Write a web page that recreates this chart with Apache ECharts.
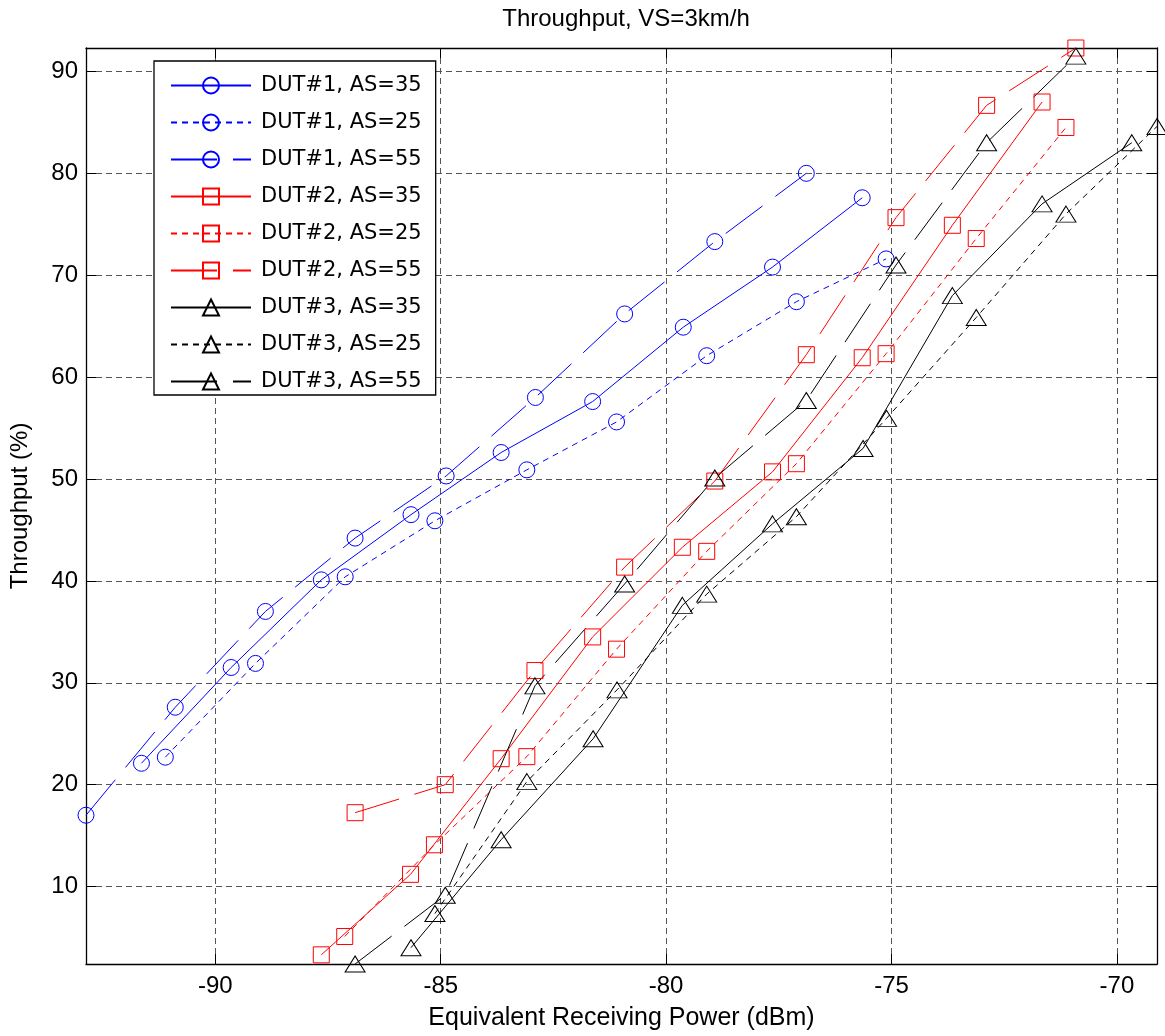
<!DOCTYPE html>
<html>
<head>
<meta charset="utf-8">
<title>Throughput, VS=3km/h</title>
<script src="https://cdn.jsdelivr.net/npm/echarts@6/dist/echarts.min.js"></script>
<style>
  html, body { margin: 0; padding: 0; background: #fff; }
  #chart { width: 1165px; height: 1036px; }
</style>
</head>
<body>
<div id="chart"></div>
<script>
// DUT#1 (blue, circles)
const dut1X35 = [-91.64, -89.65, -87.65, -85.66, -83.66, -81.63, -79.62, -77.64, -75.65]
const dut1Y35 = [22.1, 31.5, 40.1, 46.5, 52.6, 57.6, 64.9, 70.8, 77.6]
const dut1X25 = [-91.11, -89.11, -87.12, -85.13, -83.09, -81.10, -79.10, -77.11, -75.12]
const dut1Y25 = [22.7, 31.9, 40.4, 45.9, 50.9, 55.6, 62.1, 67.4, 71.6]
const dut1X55 = [-92.87, -90.89, -88.89, -86.90, -84.88, -82.90, -80.92, -78.92, -76.89]
const dut1Y55 = [17.0, 27.6, 37.0, 44.2, 50.3, 58.0, 66.2, 73.3, 80.0]
// DUT#2 (red, squares)
const dut2X35 = [-87.65, -85.67, -83.66, -81.63, -79.64, -77.64, -75.65, -73.65, -71.66]
const dut2Y35 = [3.3, 11.2, 22.55, 34.5, 43.3, 50.7, 61.9, 74.9, 87.0]
const dut2X25 = [-87.13, -85.14, -83.09, -81.10, -79.10, -77.11, -75.12, -73.12, -71.13]
const dut2Y25 = [5.1, 14.1, 22.75, 33.3, 42.9, 51.5, 62.3, 73.6, 84.5]
const dut2X55 = [-86.90, -84.90, -82.91, -80.92, -78.92, -76.89, -74.90, -72.89, -70.91]
const dut2Y55 = [17.25, 20.0, 31.2, 41.35, 49.8, 62.2, 75.65, 86.67, 92.3]
// DUT#3 (black, triangles)
const dut3X35 = [-85.66, -83.66, -81.62, -79.64, -77.64, -75.63, -73.65, -71.66, -69.67]
const dut3Y35 = [4.0, 14.6, 24.5, 37.6, 45.6, 53.0, 68.0, 77.0, 83.0]
const dut3X25 = [-85.13, -83.09, -81.09, -79.10, -77.11, -75.11, -73.12, -71.13, -69.11]
const dut3Y25 = [7.35, 20.3, 29.3, 38.7, 46.3, 55.95, 65.85, 76.0, 84.6]
const dut3X55 = [-86.90, -84.90, -82.91, -80.92, -78.92, -76.89, -74.90, -72.89, -70.91]
const dut3Y55 = [2.4, 9.15, 29.7, 39.7, 50.1, 57.7, 71.0, 83.0, 91.5]

const xTicks = [-90, -85, -80, -75, -70]
const yTicks = [10, 20, 30, 40, 50, 60, 70, 80, 90]

const font = 'Liberation Sans, Arial, Helvetica, sans-serif'
const dashShort = [6, 5]
// long dash, gap lands just right of the marker in the legend swatch
const dashLong = [46, 16]

function pairs (xs, ys) {
  return xs.map((x, i) => [x, ys[i]])
}

function makeSeries (name, xs, ys, color, symbol, size, dash) {
  return {
    name: name,
    type: 'line',
    data: pairs(xs, ys),
    symbol: symbol,
    symbolSize: size,
    clip: false,
    lineStyle: { color: color, width: 1, type: dash },
    itemStyle: { color: 'transparent', borderColor: color, borderWidth: 1 },
    emphasis: { disabled: true }
  }
}

const series = [
  makeSeries('DUT#1, AS=35', dut1X35, dut1Y35, '#0000ff', 'circle', 16, 'solid'),
  makeSeries('DUT#1, AS=25', dut1X25, dut1Y25, '#0000ff', 'circle', 16, dashShort),
  makeSeries('DUT#1, AS=55', dut1X55, dut1Y55, '#0000ff', 'circle', 16, dashLong),
  makeSeries('DUT#2, AS=35', dut2X35, dut2Y35, '#ff0000', 'rect', 16, 'solid'),
  makeSeries('DUT#2, AS=25', dut2X25, dut2Y25, '#ff0000', 'rect', 16, dashShort),
  makeSeries('DUT#2, AS=55', dut2X55, dut2Y55, '#ff0000', 'rect', 16, dashLong),
  makeSeries('DUT#3, AS=35', dut3X35, dut3Y35, '#000000', 'triangle', [20, 16], 'solid'),
  makeSeries('DUT#3, AS=25', dut3X25, dut3Y25, '#000000', 'triangle', [20, 16], dashShort),
  makeSeries('DUT#3, AS=55', dut3X55, dut3Y55, '#000000', 'triangle', [20, 16], dashLong)
]

const xMin = -92.87
const xMax = -69.11
const yMin = 2.4
const yMax = 92.3

const gridLine = { show: true, lineStyle: { color: '#555', width: 1, type: [6, 4] } }
const boxLine = { show: true, lineStyle: { color: '#000', width: 1.3 } }

const chart = echarts.init(document.getElementById('chart'))
chart.setOption({
  animation: false,
  backgroundColor: '#fff',
  title: {
    text: 'Throughput, VS=3km/h',
    left: 621,
    textAlign: 'center',
    top: 2,
    textStyle: { fontFamily: font, fontSize: 24, fontWeight: 'normal', color: '#000' }
  },
  legend: {
    orient: 'vertical',
    left: 154,
    top: 61,
    padding: [14, 14, 3, 16],
    itemWidth: 80,
    itemHeight: 20,
    itemGap: 16,
    backgroundColor: '#fff',
    borderColor: '#000',
    borderWidth: 1.3,
    borderRadius: 0,
    selectedMode: false,
    textStyle: {
      fontFamily: 'DejaVu Sans, sans-serif',
      fontSize: 21,
      color: '#000',
      lineHeight: 20,
      padding: [0, 0, 0, 5]
    },
    data: series.map(s => s.name)
  },
  grid: {
    left: 84,
    right: 8,
    top: 48,
    bottom: 70
  },
  xAxis: [
    {
      type: 'value',
      min: xMin,
      max: xMax,
      name: 'Equivalent Receiving Power (dBm)',
      nameLocation: 'middle',
      nameGap: 42,
      nameTextStyle: { fontFamily: font, fontSize: 25, color: '#000' },
      axisLine: boxLine,
      axisTick: { show: true, inside: true, length: 10, customValues: xTicks, lineStyle: { color: '#000' } },
      axisLabel: { customValues: xTicks, margin: 10, fontFamily: font, fontSize: 24, color: '#000' },
      splitLine: gridLine
    },
    {
      type: 'value',
      position: 'top',
      min: xMin,
      max: xMax,
      axisLine: boxLine,
      axisTick: { show: true, inside: true, length: 10, customValues: xTicks, lineStyle: { color: '#000' } },
      axisLabel: { show: false },
      splitLine: { show: false }
    }
  ],
  yAxis: [
    {
      type: 'value',
      min: yMin,
      max: yMax,
      name: 'Throughput (%)',
      nameLocation: 'middle',
      nameGap: 54,
      nameTextStyle: { fontFamily: font, fontSize: 24, color: '#000' },
      axisLine: boxLine,
      axisTick: { show: true, inside: true, length: 10, customValues: yTicks, lineStyle: { color: '#000' } },
      axisLabel: { customValues: yTicks, margin: 8, fontFamily: font, fontSize: 24, color: '#000' },
      splitLine: gridLine
    },
    {
      type: 'value',
      position: 'right',
      min: yMin,
      max: yMax,
      axisLine: boxLine,
      axisTick: { show: true, inside: true, length: 10, customValues: yTicks, lineStyle: { color: '#000' } },
      axisLabel: { show: false },
      splitLine: { show: false }
    }
  ],
  series: series
})
</script>
</body>
</html>
